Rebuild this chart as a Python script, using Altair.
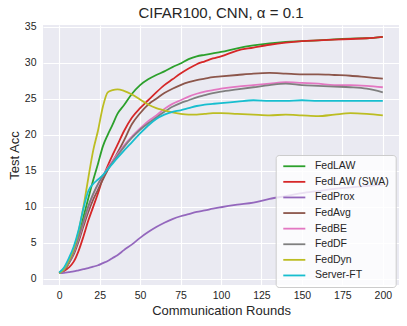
import altair as alt
import pandas as pd

rounds = [0, 3, 6, 9, 12, 15, 18, 21, 24, 27, 30, 33, 36, 40, 45, 50, 55, 60, 65, 70,
          75, 80, 85, 90, 95, 100, 110, 120, 130, 140, 150, 160, 170, 180, 190, 200]

fedlaw = [0.8, 1.2, 2.2, 3.9, 6.0, 8.6, 11.2, 13.7, 16.0, 18.4, 20.0, 21.4, 22.9, 24.1, 25.7, 26.9,
          27.7, 28.3, 28.8, 29.4, 29.9, 30.5, 30.9, 31.1, 31.3, 31.5, 32.0, 32.4, 32.7, 32.9,
          33.0, 33.1, 33.25, 33.35, 33.4, 33.6]
fedlaw_swa = [0.9, 1.1, 1.6, 2.4, 3.9, 5.9, 8.1, 10.0, 11.9, 14.0, 15.7, 17.2, 18.6, 20.5, 22.4, 23.7,
              24.8, 25.9, 26.9, 27.7, 28.5, 29.2, 29.8, 30.2, 30.6, 30.9, 31.7, 32.1, 32.5, 32.8,
              33.0, 33.1, 33.2, 33.3, 33.4, 33.6]
fedprox = [0.8, 0.85, 0.95, 1.05, 1.2, 1.35, 1.5, 1.7, 1.9, 2.2, 2.5, 2.9, 3.3, 4.0, 4.8, 5.7,
           6.5, 7.2, 7.8, 8.3, 8.7, 9.0, 9.3, 9.5, 9.75, 9.95, 10.3, 10.6, 11.1, 11.5,
           11.9, 12.2, 12.5, 12.7, 12.9, 13.1]
fedavg = [0.8, 1.3, 2.2, 3.4, 5.2, 7.3, 9.3, 11.0, 12.4, 13.8, 15.1, 16.3, 17.5, 19.2, 21.5, 23.0,
          24.2, 25.0, 25.8, 26.4, 26.9, 27.3, 27.6, 27.8, 28.0, 28.1, 28.3, 28.5, 28.6, 28.5,
          28.4, 28.4, 28.3, 28.2, 28.0, 27.8]
fedbe = [0.8, 1.3, 2.3, 3.7, 5.6, 7.8, 9.9, 11.7, 13.1, 14.3, 15.4, 16.4, 17.3, 18.5, 19.8, 20.9,
         21.9, 22.7, 23.6, 24.3, 24.8, 25.3, 25.7, 26.0, 26.2, 26.4, 26.7, 26.9, 27.1, 27.3,
         27.2, 27.1, 26.9, 26.9, 26.8, 26.6]
feddf = [0.8, 1.3, 2.3, 3.8, 5.8, 8.0, 10.1, 11.8, 13.2, 14.3, 15.3, 16.2, 17.1, 18.3, 19.6, 20.7,
         21.6, 22.4, 23.2, 23.9, 24.4, 24.8, 25.2, 25.5, 25.8, 26.0, 26.3, 26.6, 26.9, 27.1,
         26.9, 26.8, 26.7, 26.6, 26.4, 25.9]
feddyn = [0.8, 1.4, 2.6, 4.2, 6.6, 10.0, 14.0, 17.8, 20.6, 23.9, 25.9, 26.2, 26.3, 26.1, 25.6, 24.9,
          24.2, 23.7, 23.4, 23.1, 22.9, 22.8, 22.8, 22.9, 23.0, 23.0, 22.9, 22.8, 22.7, 22.8,
          22.7, 22.6, 22.8, 23.0, 22.9, 22.7]
server_ft = [0.9, 1.6, 2.9, 4.5, 6.8, 9.8, 12.2, 13.2, 13.8, 14.4, 15.2, 16.0, 16.8, 17.8, 19.0, 20.2,
             21.3, 22.2, 22.8, 23.2, 23.4, 23.7, 24.0, 24.2, 24.3, 24.4, 24.6, 24.8, 24.7, 24.7,
             24.8, 24.7, 24.7, 24.7, 24.7, 24.7]

names = ["FedLAW", "FedLAW (SWA)", "FedProx", "FedAvg", "FedBE", "FedDF", "FedDyn", "Server-FT"]
colors = ["#2ca02c", "#d62728", "#9467bd", "#8c564b", "#e377c2", "#7f7f7f", "#bcbd22", "#17becf"]
series = [fedlaw, fedlaw_swa, fedprox, fedavg, fedbe, feddf, feddyn, server_ft]

rows = []
for n, s in zip(names, series):
    for r, v in zip(rounds, s):
        rows.append({"round": r, "acc": v, "method": n})
df = pd.DataFrame(rows)

FONT = "Liberation Sans"
TXT = "#262626"

x = alt.X("round:Q",
          scale=alt.Scale(domain=[-10, 210], nice=False, zero=False),
          axis=alt.Axis(values=list(range(0, 201, 25)), title="Communication Rounds",
                        labelPadding=5, titlePadding=4))
y = alt.Y("acc:Q",
          scale=alt.Scale(domain=[-0.84, 35.24], nice=False, zero=False),
          axis=alt.Axis(values=list(range(0, 36, 5)), title="Test Acc",
                        labelPadding=7, titlePadding=3))
legend = alt.Legend(orient="none", legendX=232.7, legendY=130, title=None,
                    symbolType="M-1,0H5", symbolSize=54, symbolStrokeWidth=1.8,
                    labelFontSize=10.5, labelFont=FONT, labelColor=TXT,
                    labelOffset=22.7, rowPadding=4.6, padding=6,
                    fillColor="rgba(255,255,255,0.8)", strokeColor="#cccccc",
                    cornerRadius=3)
color = alt.Color("method:N", scale=alt.Scale(domain=names, range=colors), legend=legend)

layers = []
for n in names:
    layers.append(
        alt.Chart(df)
        .transform_filter(alt.datum.method == n)
        .mark_line(strokeWidth=1.8, interpolate="monotone")
        .encode(x=x, y=y, color=color)
    )

chart = (
    alt.layer(*layers)
    .properties(
        width=356, height=260,
        title=alt.Title("CIFAR100, CNN, α = 0.1", fontSize=15, font=FONT, fontWeight="normal",
                        color=TXT, anchor="middle", frame="group", baseline="alphabetic",
                        offset=-11),
        padding={"left": 35, "top": 17, "right": 0, "bottom": 33},
        autosize=alt.AutoSizeParams(type="none"),
    )
    .configure_view(fill="#eaeaf2", stroke=None)
    .configure_axis(domain=False, ticks=False, grid=True, gridColor="white", gridWidth=1.1,
                    labelFont=FONT, labelFontSize=10.5, labelColor=TXT,
                    titleFont=FONT, titleFontSize=13, titleFontWeight="normal", titleColor=TXT)
)

chart.save("out.html", embed_options={"renderer": "svg", "actions": False})
